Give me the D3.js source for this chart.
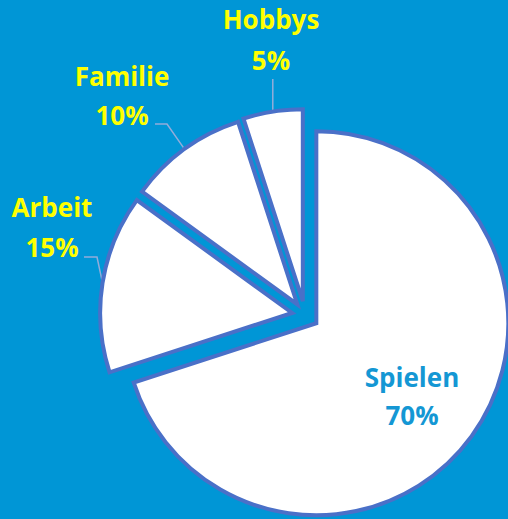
<!DOCTYPE html>
<html>
<head>
<meta charset="utf-8">
<script src="https://cdn.jsdelivr.net/npm/d3@7"></script>
<style>
html,body{margin:0;padding:0;background:#0096D6;}
svg{display:block;}
</style>
</head>
<body>
<svg id="chart" width="508" height="519"></svg>
<script>
// ---- data ----
const categories = ["Spielen", "Arbeit", "Familie", "Hobbys"];
const values = [70, 15, 10, 5];
const percentLabels = ["70%", "15%", "10%", "5%"];

// ---- layout / style ----
const W = 508, H = 519;
const cx = 305, cy = 315, R = 192;
const explode = [14, 13, 13, 14];
const labelLayout = [
  {x: 412, y1: 387, y2: 425, color: "#1497D4", leader: null},
  {x: 52,  y1: 217, y2: 257, color: "#FFFF00", leader: [[84, 257], [97, 257]]},
  {x: 122, y1: 86,  y2: 125, color: "#FFFF00", leader: [[155, 124], [167, 124]]},
  {x: 271, y1: 29,  y2: 70,  color: "#FFFF00", leader: "vertical", top: 79}
];

const svg = d3.select("#chart");
svg.append("rect").attr("width", W).attr("height", H).attr("fill", "#0096D6");

const data = categories.map((c, i) => ({name: c, value: values[i], pct: percentLabels[i], i}));
const pie = d3.pie().sort(null).value(d => d.value);
const arcs = pie(data);
const arc = d3.arc().innerRadius(0).outerRadius(R);

function offset(a, e) {
  const m = (a.startAngle + a.endAngle) / 2;
  return [e * Math.sin(m), -e * Math.cos(m)];
}

// leader lines
const leaderG = svg.append("g");
arcs.forEach((a, i) => {
  const L = labelLayout[i];
  if (!L.leader) return;
  const [ox, oy] = offset(a, explode[i]);
  const m = (a.startAngle + a.endAngle) / 2;
  const ex = cx + ox + R * Math.sin(m);
  const ey = cy + oy - R * Math.cos(m);
  let pts;
  if (L.leader === "vertical") pts = [[ex, L.top], [ex, ey]];
  else pts = L.leader.concat([[ex, ey]]);
  leaderG.append("path")
    .attr("d", d3.line()(pts))
    .attr("fill", "none")
    .attr("stroke", "#93ACDA")
    .attr("stroke-width", 1.5);
});

// slices
svg.append("g").selectAll("path")
  .data(arcs)
  .join("path")
  .attr("transform", (d, i) => {
    const [ox, oy] = offset(d, explode[i]);
    return `translate(${cx + ox},${cy + oy})`;
  })
  .attr("d", arc)
  .attr("fill", "#FFFFFF")
  .attr("stroke", "#4A70C8")
  .attr("stroke-width", 4)
  .attr("stroke-linejoin", "miter");

// labels
const lg = svg.append("g")
  .attr("font-family", "'Open Sans', sans-serif")
  .attr("font-weight", "bold")
  .attr("font-size", 26)
  .attr("text-anchor", "middle");
data.forEach((d, i) => {
  const L = labelLayout[i];
  lg.append("text").attr("x", L.x).attr("y", L.y1).attr("fill", L.color).text(d.name);
  lg.append("text").attr("x", L.x).attr("y", L.y2).attr("fill", L.color).text(d.pct);
});
</script>
</body>
</html>
